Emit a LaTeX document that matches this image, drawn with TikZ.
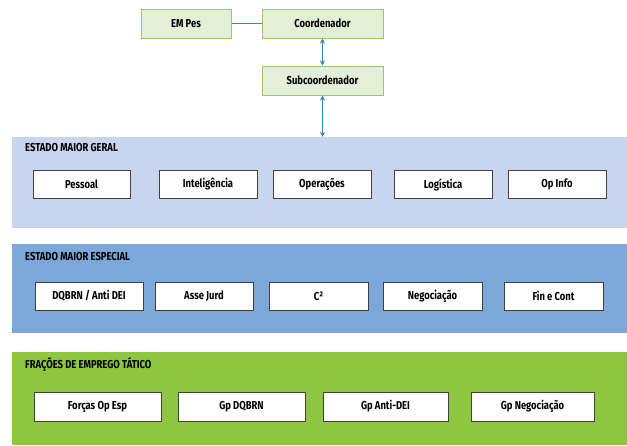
\documentclass[tikz,border=0pt]{standalone}
\usepackage{fontspec}
\setmainfont{Fira Sans}[FakeStretch=0.82]
\usepackage{tikz}
\usetikzlibrary{arrows.meta}

\definecolor{boxgreen}{HTML}{E4F0D6}
\definecolor{edgegreen}{HTML}{9CC56A}
\definecolor{linkblue}{HTML}{2F86C8}
\definecolor{bandone}{HTML}{C7D6EE}
\definecolor{bandtwo}{HTML}{7BA7D9}
\definecolor{bandthree}{HTML}{8DC63F}

\begin{document}
\begin{tikzpicture}[x=1pt, y=-1pt,
    font=\fontsize{11.5}{13}\selectfont\bfseries,
    topbox/.style={draw=edgegreen, fill=boxgreen, line width=1pt, minimum height=29pt, inner sep=0pt},
    band/.style={draw=none, minimum width=615pt, inner sep=0pt},
    unitbox/.style={draw=black!75, fill=white, line width=0.9pt, minimum height=28pt, inner sep=0pt},
    bandtitle/.style={anchor=west, inner sep=0pt},
    link/.style={linkblue, line width=1.2pt},
    twoway/.style={link, {Stealth[length=5pt,width=5pt]}-{Stealth[length=5pt,width=5pt]}}]
            \useasboundingbox (0,0) rectangle (627,445);

            % Command
            \node[topbox, minimum width=90pt] (empes) at (186, 23.5) {EM Pes};
            \node[topbox, minimum width=121pt] (coord) at (322.5, 23.5) {Coordenador};
            \node[topbox, minimum width=121pt] (subcoord) at (322.5, 80.5) {Subcoordenador};

            % Bands
            \node[band, fill=bandone, minimum height=91pt] (emg) at (319.5, 182.5) {};
            \node[band, fill=bandtwo, minimum height=89pt] (eme) at (319.5, 288.5) {};
            \node[band, fill=bandthree, minimum height=93pt] (fet) at (319.5, 398.5) {};
            \node[bandtitle] (emgtitle) at (25, 148) {ESTADO MAIOR GERAL};
            \node[bandtitle] (emetitle) at (25, 257) {ESTADO MAIOR ESPECIAL};
            \node[bandtitle] (fettitle) at (25, 365) {FRAÇÕES DE EMPREGO TÁTICO};

            % Estado maior geral
            \node[unitbox, minimum width=97pt] (pessoal) at (81.5, 184.5) {Pessoal};
            \node[unitbox, minimum width=98pt] (intel) at (208, 184.5) {Inteligência};
            \node[unitbox, minimum width=98pt] (oper) at (322, 184.5) {Operações};
            \node[unitbox, minimum width=98pt] (logist) at (443, 184.5) {Logística};
            \node[unitbox, minimum width=98pt] (opinfo) at (557, 184.5) {Op Info};

            % Estado maior especial
            \node[unitbox, minimum width=108pt] (dqbrn) at (89, 296) {DQBRN / Anti DEI};
            \node[unitbox, minimum width=98pt] (assejurd) at (204, 296) {Asse Jurd};
            \node[unitbox, minimum width=99pt] (ccom) at (318.5, 296) {C²};
            \node[unitbox, minimum width=99pt] (negoc) at (432.5, 296) {Negociação};
            \node[unitbox, minimum width=99pt] (fincont) at (553.5, 296) {Fin e Cont};

            % Fracoes de emprego tatico
            \node[unitbox, minimum width=127pt, minimum height=29pt] (forcas) at (97.5, 406.5) {Forças Op Esp};
            \node[unitbox, minimum width=127pt, minimum height=29pt] (gpdqbrn) at (241.5, 406.5) {Gp DQBRN};
            \node[unitbox, minimum width=125pt, minimum height=29pt] (gpantidei) at (385.5, 406.5) {Gp Anti-DEI};
            \node[unitbox, minimum width=123pt, minimum height=29pt] (gpnegoc) at (532.5, 406.5) {Gp Negociação};

            % Edges
            \draw[link] (empes) -- (coord);
            \draw[twoway] (coord) -- (subcoord);
            \draw[twoway] (subcoord) -- (subcoord |- emg.north);
        \end{tikzpicture}
\end{document}
